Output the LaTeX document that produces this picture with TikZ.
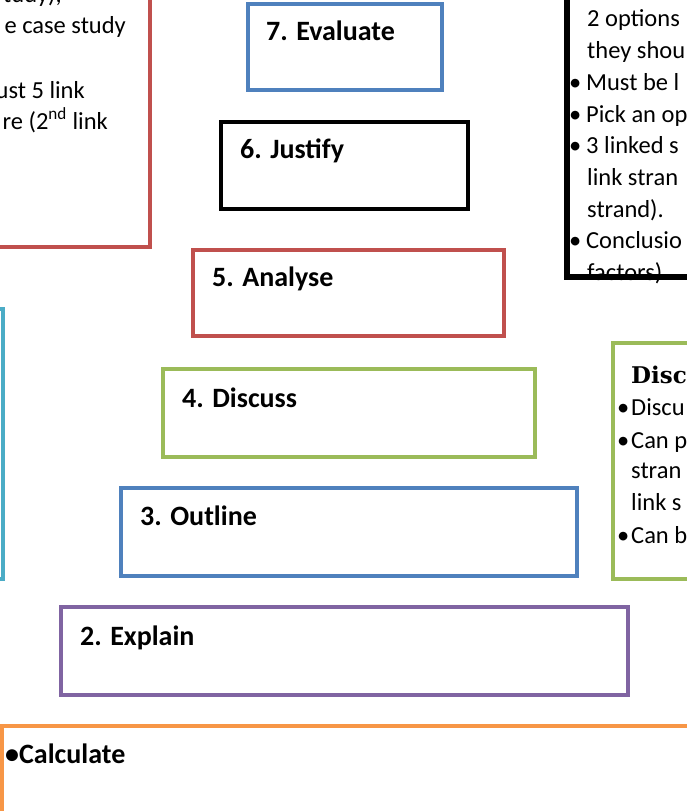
\documentclass[tikz,border=0pt]{standalone}
\usepackage{fontspec}
\setmainfont{Carlito}
\newfontfamily\headfont{DejaVu Serif}
\usetikzlibrary{calc}
\definecolor{cblue}{HTML}{4F81BD}
\definecolor{cred}{HTML}{C0504D}
\definecolor{cgreen}{HTML}{9BBB59}
\definecolor{cpurple}{HTML}{8064A2}
\definecolor{corange}{HTML}{F79646}
\definecolor{ccyan}{HTML}{4BACC6}
\newcommand{\bul}{\makebox[17pt][l]{•}}
\newcommand{\bulg}{\makebox[14pt][l]{•}}
\begin{document}
\begin{tikzpicture}[x=1pt,y=-1pt,
  box/.style={draw, rectangle, anchor=north west, inner sep=0pt, outer sep=0pt, line width=3.5pt},
  steplabel/.style={anchor=base west, inner sep=0pt, font=\fontsize{28}{32}\selectfont\bfseries},
  body/.style={inner sep=0pt, font=\fontsize{24.5}{32}\selectfont},
  bodyw/.style={body, anchor=base west},
  bodye/.style={body, anchor=base east},
]
\useasboundingbox (0,0) rectangle (687,811);
\clip (0,0) rectangle (687,811);

% side boxes (partly outside the picture)
\node[box, draw=cred, line width=4pt, minimum width=180pt, minimum height=277pt] (leftred) at (-30,-30) {};
\node[box, draw=black, line width=6pt, minimum width=200pt, minimum height=307pt] (rightblack) at (567,-30) {};
\node[box, draw=ccyan, line width=4pt, minimum width=32.5pt, minimum height=270pt] (leftcyan) at (-30,309) {};
\node[box, draw=cgreen, line width=4pt, minimum width=150pt, minimum height=236pt] (rightgreen) at (613,343) {};

% staircase boxes
\node[box, draw=cblue, minimum width=194pt, minimum height=86pt] (s7) at (248,4) {};
\node[box, draw=black, line width=4.5pt, minimum width=247pt, minimum height=87pt] (s6) at (221,122) {};
\node[box, draw=cred, minimum width=311pt, minimum height=86pt] (s5) at (193,250) {};
\node[box, draw=cgreen, minimum width=372pt, minimum height=88pt] (s4) at (163,369) {};
\node[box, draw=cblue, minimum width=456pt, minimum height=88pt] (s3) at (121,488) {};
\node[box, draw=cpurple, minimum width=567pt, minimum height=88pt] (s2) at (61,607) {};
\node[box, draw=corange, minimum width=720pt, minimum height=120pt] (s1) at (2,726) {};

\node[steplabel] (t7) at ($(s7.north west)+(18,36)$) {7. Evaluate};
\node[steplabel] (t6) at ($(s6.north west)+(19,36)$) {6. Justify};
\node[steplabel] (t5) at ($(s5.north west)+(19,36)$) {5. Analyse};
\node[steplabel] (t4) at ($(s4.north west)+(19,38)$) {4. Discuss};
\node[steplabel] (t3) at ($(s3.north west)+(19,37)$) {3. Outline};
\node[steplabel] (t2) at ($(s2.north west)+(19,38)$) {2. Explain};
\node[steplabel] (t1) at ($(s1.north west)+(3,37)$) {•Calculate};

% left red box text
\node[bodye] (lr0) at (62,2) {tudy),};
\node[bodye] (lr1) at (126,33) {e case study};
\node[bodye] (lr2) at (85,98) {ust 5 link};
\node[bodye] (lr3) at (108,129) {re (2\textsuperscript{nd} link};

% right black box text
\node[bodyw] (rb1) at (587,27) {2 options};
\node[bodyw] (rb2) at (587,58) {they shou};
\node[bodyw] (rb3) at (569,90) {\bul Must be l};
\node[bodyw] (rb4) at (569,122) {\bul Pick an op};
\node[bodyw] (rb5) at (569,153) {\bul 3 linked s};
\node[bodyw] (rb6) at (587,185) {link stran};
\node[bodyw] (rb7) at (587,217) {strand).};
\node[bodyw] (rb8) at (569,248) {\bul Conclusio};
\node[bodyw] (rb9) at (587,280) {factors)};

% right green box text
\node[anchor=base west, inner sep=0pt, font=\fontsize{23}{28}\selectfont\headfont\bfseries] (gh) at (631,383) {Disc};
\node[bodyw] (g1) at (617,415) {\bulg Discu};
\node[bodyw] (g2) at (617,448) {\bulg Can p};
\node[bodyw] (g3) at (631,478) {stran};
\node[bodyw] (g4) at (631,510) {link s};
\node[bodyw] (g5) at (617,543) {\bulg Can b};
\end{tikzpicture}
\end{document}
